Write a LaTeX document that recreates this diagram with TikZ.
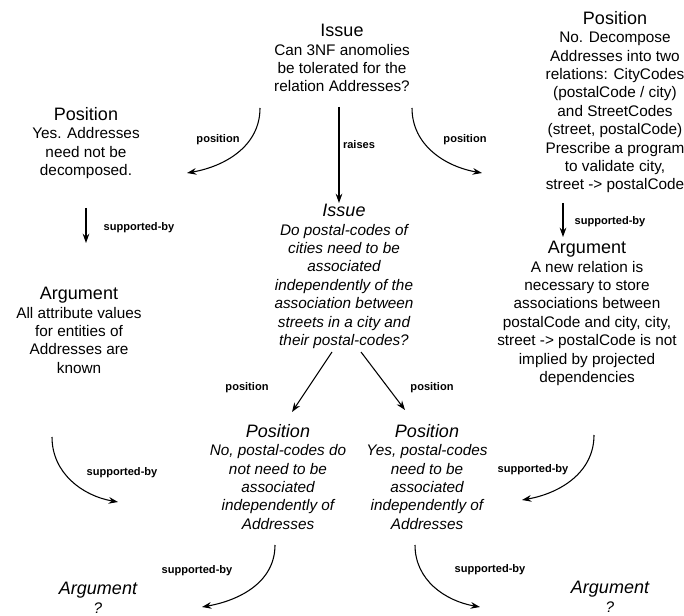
\documentclass[tikz,border=0pt]{standalone}
\usepackage{fontspec}
\setmainfont{Liberation Sans}
\usetikzlibrary{arrows.meta}

\newcommand{\bodyfnt}{\fontsize{11.5pt}{13.8pt}\selectfont}
\newcommand{\headfnt}{\fontsize{13.5pt}{16pt}\selectfont}

\begin{document}
\begin{tikzpicture}[
    x=0.75pt, y=0.75pt,
    block/.style={anchor=north, inner sep=0pt, align=center, font=\bodyfnt},
    iblock/.style={block, font=\bodyfnt\itshape},
    lbl/.style={inner sep=0pt, font=\fontsize{8.3pt}{10pt}\selectfont\bfseries},
    arr/.style={-{Stealth[length=7pt,width=5pt]}, line width=0.8pt}
]
\useasboundingbox (0,0) rectangle (684,-616);

% Top issue
\node[block] (issue) at (342,-24) {{\headfnt Issue}\\ Can 3NF anomolies\\ be tolerated for the\\ relation Addresses?};

% Positions on the first issue
\node[block] (posYes) at (86,-107) {{\headfnt Position}\\ Yes. Addresses\\ need not be\\ decomposed.};
\node[block] (posNo) at (615,-11) {{\headfnt Position}\\ No. Decompose\\ Addresses into two\\ relations: CityCodes\\ (postalCode / city)\\ and StreetCodes\\ (street, postalCode)\\ Prescribe a program\\ to validate city,\\ street -> postalCode};

% Arguments
\node[block] (argYes) at (79,-287) {{\headfnt Argument}\\ All attribute values\\ for entities of\\ Addresses are\\ known};
\node[block] (argNo) at (587,-241) {{\headfnt Argument}\\ A new relation is\\ necessary to store\\ associations between\\ postalCode and city, city,\\ street -> postalCode is not\\ implied by projected\\ dependencies};

% Raised issue and its positions
\node[iblock] (issue2) at (344,-204) {{\headfnt Issue}\\ Do postal-codes of\\ cities need to be\\ associated\\ independently of the\\ association between\\ streets in a city and\\ their postal-codes?};
\node[iblock] (posNo2) at (278,-424) {{\headfnt Position}\\ No, postal-codes do\\ not need to be\\ associated\\ independently of\\ Addresses};
\node[iblock] (posYes2) at (427,-424) {{\headfnt Position}\\ Yes, postal-codes\\ need to be\\ associated\\ independently of\\ Addresses};

% Open arguments
\node[iblock] (argQ1) at (98,-582) {{\headfnt Argument}\\ ?};
\node[iblock] (argQ2) at (610,-581) {{\headfnt Argument}\\ ?};

% Arrows
\draw[arr] ([shift={(-82,-84)}]issue.north) to[out=-90, in=10] ([shift={(101,-66)}]posYes.north);
\draw[arr] ([shift={(-3,-83)}]issue.north) -- ([shift={(-5,1)}]issue2.north);
\draw[arr] ([shift={(70,-84)}]issue.north) to[out=-90, in=170] ([shift={(-133,-162)}]posNo.north);

\draw[arr] ([shift={(0,-101)}]posYes.north) -- ([shift={(7,44)}]argYes.north);
\draw[arr] ([shift={(-52,-192)}]posNo.north) -- ([shift={(-24,4)}]argNo.north);

\draw[arr] ([shift={(-12,-148)}]issue2.north) -- ([shift={(14,12)}]posNo2.north);
\draw[arr] ([shift={(17,-148)}]issue2.north) -- ([shift={(-22,14)}]posYes2.north);

\draw[arr] ([shift={(-27,-150)}]argYes.north) to[out=-90, in=170] ([shift={(-160,-78)}]posNo2.north);
\draw[arr] ([shift={(7,-194)}]argNo.north) to[out=-90, in=10] ([shift={(95,-76)}]posYes2.north);

\draw[arr] ([shift={(-3,-121)}]posNo2.north) to[out=-90, in=10] ([shift={(104,-25)}]argQ1.north);
\draw[arr] ([shift={(-12,-121)}]posYes2.north) to[out=-90, in=170] ([shift={(-130,-26)}]argQ2.north);

% Labels
\node[lbl] (lpos1) at (218,-140) {position};
\node[lbl] (lraise) at (359,-145) {raises};
\node[lbl] (lpos2) at (465,-140) {position};
\node[lbl] (lsup1) at (139,-228) {supported-by};
\node[lbl] (lsup2) at (610,-222) {supported-by};
\node[lbl] (lpos3) at (247,-388) {position};
\node[lbl] (lpos4) at (432,-388) {position};
\node[lbl] (lsup3) at (122,-473) {supported-by};
\node[lbl] (lsup4) at (533,-470) {supported-by};
\node[lbl] (lsup5) at (197,-571) {supported-by};
\node[lbl] (lsup6) at (490,-570) {supported-by};

\end{tikzpicture}
\end{document}
